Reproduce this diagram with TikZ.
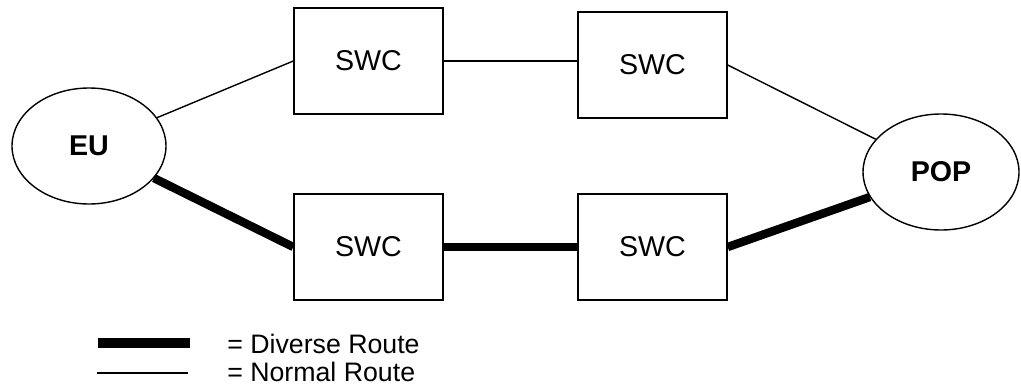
\documentclass[tikz,border=0pt]{standalone}
\usepackage{fontspec}
\setmainfont{Liberation Sans}
\usetikzlibrary{shapes.geometric}
\tikzset{
  swcbox/.style={draw, line width=0.8pt, minimum width=2.98cm, minimum height=2.12cm, font=\fontsize{16.3}{18}\selectfont},
  endpoint/.style={draw, ellipse, line width=0.8pt, minimum width=3.08cm, minimum height=2.32cm, inner sep=0pt, font=\fontsize{16.3}{18}\selectfont\bfseries},
  normal/.style={line width=0.8pt},
  diverse/.style={line width=4.8pt},
  legendtext/.style={anchor=west, inner sep=0pt, font=\fontsize{15.2}{17}\selectfont}
}
\begin{document}
\begin{tikzpicture}
                \useasboundingbox (0,0) rectangle (20.42,7.7);
                % end points
                \node [endpoint] (eu) at (1.78,4.78) {EU};
                \node [endpoint, minimum width=3.12cm] (pop) at (18.82,4.26) {POP};
                % switching centres
                \node [swcbox] (swcA) at (7.37,6.48) {SWC};
                \node [swcbox] (swcB) at (13.05,6.40) {SWC};
                \node [swcbox] (swcC) at (7.37,2.76) {SWC};
                \node [swcbox] (swcD) at (13.05,2.76) {SWC};
                % normal route
                \draw [normal] (eu)--(swcA.west);
                \draw [normal] (swcA.east)--(swcA.east -| swcB.west);
                \draw [normal] (swcB.east)--(pop);
                % diverse route
                \draw [diverse] (eu)--(swcC.west);
                \draw [diverse] (swcC.east)--(swcD.west);
                \draw [diverse] (swcD.east)--(pop);
                % legend
                \node [legendtext] (divtxt) at (4.54,0.83) {= Diverse Route};
                \node [legendtext] (normtxt) at (4.54,0.27) {= Normal Route};
                \coordinate (divA) at (1.96,0.84);
                \coordinate (divB) at (3.80,0.84);
                \coordinate (normA) at (1.94,0.24);
                \coordinate (normB) at (3.76,0.24);
                \draw [diverse, line width=5.2pt] (divA)--(divB);
                \draw [normal] (normA)--(normB);
\end{tikzpicture}
\end{document}
